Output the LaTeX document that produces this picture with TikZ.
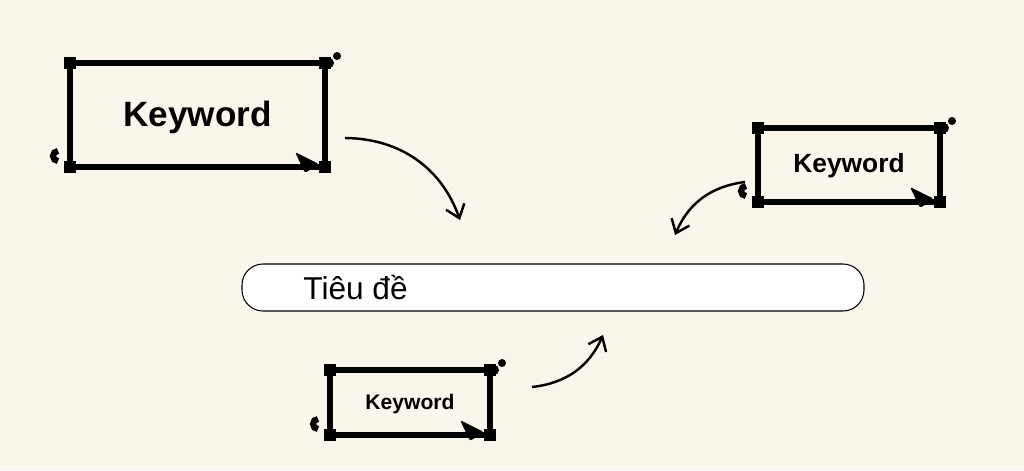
\documentclass[tikz,border=0pt]{standalone}
\usepackage{fontspec}
\setmainfont{Liberation Sans}
\usetikzlibrary{arrows.meta,calc}
\definecolor{paper}{HTML}{FAF6EC}
\tikzset{
  frame/.style={draw, line width=3pt},
  handle/.style={fill, minimum size=7pt, inner sep=0pt},
  link/.style={draw, line width=1.4pt, -{Straight Barb[length=7pt,width=11pt]}},
  cursor/.style={fill, rounded corners=1pt}
}
\newcommand{\selbox}[5]{% name, x1, y1, x2, y2
  \draw[frame] (#2,#3) rectangle (#4,#5);
  \node[handle] (#1nw) at (#2,#3) {};
  \node[handle] (#1ne) at (#4,#3) {};
  \node[handle] (#1sw) at (#2,#5) {};
  \node[handle] (#1se) at (#4,#5) {};
  \fill ($(#4,#3)+(4,0)$) circle (5);
  \fill ($(#4,#3)+(12,-7)$) circle (4);
  \draw[line width=3.5pt] ($(#2,#5)+(-12,-6)$) arc (90:270:5);
  \fill[cursor] ($(#4,#5)+(-30,-15)$) -- ($(#4,#5)+(-6,-3)$) -- ($(#4,#5)+(-20,6)$) -- cycle;
}
\begin{document}
\begin{tikzpicture}[x=0.02cm, y=-0.02cm]
  \fill[paper] (0,0) rectangle (1024,470);
  \useasboundingbox (0,0) rectangle (1024,470);
  % keyword boxes
  \selbox{a}{70}{63}{325}{167}
  \node[font=\bfseries\fontsize{20}{24}\selectfont] (ka) at (197.5,117) {Keyword};
  \selbox{b}{758}{128}{940}{202}
  \node[font=\bfseries\fontsize{15}{18}\selectfont] (kb) at (849,166) {Keyword};
  \selbox{c}{330}{370}{490}{435}
  \node[font=\bfseries\fontsize{12}{14}\selectfont] (kc) at (410,404) {Keyword};
  % title bar
  \draw[fill=white, rounded corners=12pt, line width=0.6pt] (242,264) rectangle (864,311);
  \node[anchor=west, font=\fontsize{18}{22}\selectfont, inner sep=0pt] (title) at (303,287.5) {Tiêu đề};
  % arrows
  \coordinate (a1) at (345,138); \coordinate (a2) at (460,220);
  \coordinate (b1) at (745,182); \coordinate (b2) at (675,235);
  \coordinate (c1) at (532,387); \coordinate (c2) at (603,335);
  \draw[link] (a1) to[bend left=35] (a2);
  \draw[link] (b1) to[bend right=30] (b2);
  \draw[link] (c1) to[bend right=30] (c2);
\end{tikzpicture}
\end{document}
